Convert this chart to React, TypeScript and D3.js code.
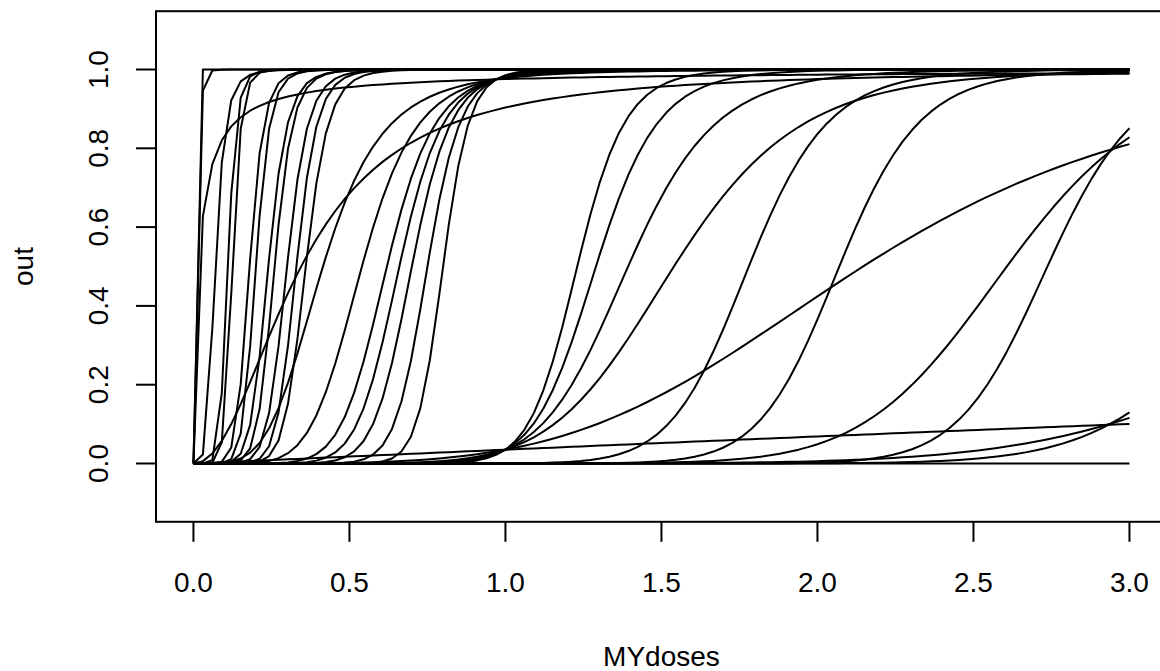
import React from 'react';
import * as d3 from 'd3';

// dose grid used for every curve (R: seq(0, 3, length.out = 100))
const MYdoses: number[] = d3.range(100).map((i) => (i * 3) / 99);

// Hill curves: ec50 and slope of each response curve
const ec50s: number[] = [
  0.008, 0.017, 0.016, 0.07, 0.11, 0.125, 0.18, 0.2, 0.24, 0.26, 0.3, 0.33, 0.36,
  0.345, 0.415, 0.54, 0.62, 0.66, 0.7, 0.75, 0.8,
  1.23, 1.29, 1.393, 1.54, 2.146, 25.8,
  1.78, 2.07, 2.737, 2.607, 3.44, 3.92, 1e6,
];
const slopes: number[] = [
  12, 0.906, 4.5, 4.5, 8, 9, 8, 9, 8, 9, 9, 10, 10,
  2.1, 4.32, 6.26, 8.19, 9.52, 11.24, 14.25, 19,
  16, 13, 10, 7.66, 4.34, 1.02,
  14, 16, 19, 11.2, 13.9, 7.6, 1,
];

const xTicks: number[] = [0, 0.5, 1, 1.5, 2, 2.5, 3];
const yTicks: number[] = [0, 0.2, 0.4, 0.6, 0.8, 1];

const hill = (d: number, e: number, n: number) => (d <= 0 ? 0 : 1 / (1 + Math.pow(e / d, n)));

export default function App() {
  const x = d3.scaleLinear().domain([-0.12, 3.12]).range([156, 1166.9]);
  const y = d3.scaleLinear().domain([-0.148, 1.148]).range([521.8, 11.2]);
  const line = d3
    .line<[number, number]>()
    .x((p) => x(p[0]))
    .y((p) => y(p[1]));
  const font = 'Liberation Sans, Arial, Helvetica, sans-serif';
  const [x0, x1] = x.range();
  const [y0, y1] = y.range();
  return (
    <svg
      width={1160}
      height={671}
      style={{ position: 'absolute', left: 0, top: 0, background: '#fff' }}
      fontFamily={font}
    >
      <rect x={0} y={0} width={1160} height={671} fill="#fff" />
      <g>
        {ec50s.map((e, i) => (
          <path
            key={i}
            d={line(MYdoses.map((d) => [d, hill(d, e, slopes[i])] as [number, number])) || ''}
            fill="none"
            stroke="#000"
            strokeWidth={2}
            strokeLinejoin="round"
          />
        ))}
      </g>
      <rect x={x0} y={y1} width={x1 - x0} height={y0 - y1} fill="none" stroke="#000" strokeWidth={2} />
      {xTicks.map((t) => (
        <g key={'x' + t}>
          <line x1={x(t)} x2={x(t)} y1={y0} y2={y0 + 20} stroke="#000" strokeWidth={2} />
          <text x={x(t)} y={591.5} fontSize={28} textAnchor="middle">
            {t.toFixed(1)}
          </text>
        </g>
      ))}
      {yTicks.map((t) => (
        <g key={'y' + t}>
          <line x1={x0} x2={x0 - 20} y1={y(t)} y2={y(t)} stroke="#000" strokeWidth={2} />
          <text
            transform={`translate(108,${y(t)}) rotate(-90)`}
            fontSize={28}
            textAnchor="middle"
          >
            {t.toFixed(1)}
          </text>
        </g>
      ))}
      <text x={(x(0) + x(3)) / 2} y={666} fontSize={28} textAnchor="middle">
        MYdoses
      </text>
      <text transform={`translate(33,${(y(0) + y(1)) / 2}) rotate(-90)`} fontSize={28} textAnchor="middle">
        out
      </text>
    </svg>
  );
}
